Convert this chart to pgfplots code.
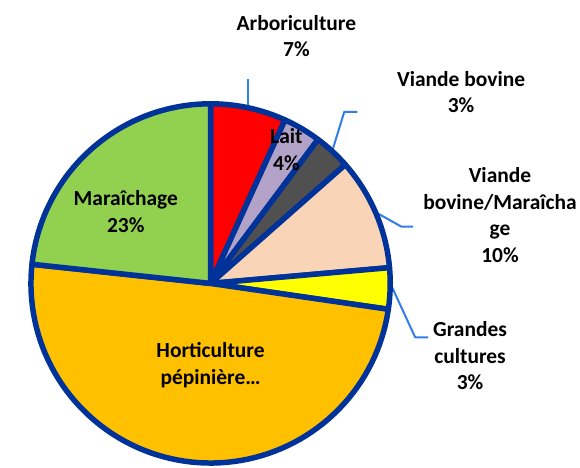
\documentclass[border=0pt]{standalone}
\usepackage{pgfplots}
\pgfplotsset{compat=1.18}
\usepackage{fontspec}
\setmainfont{Carlito}
\definecolor{bord}{RGB}{0,51,153}
\definecolor{lead}{RGB}{50,125,235}
\definecolor{cArbo}{RGB}{255,0,0}
\definecolor{cLait}{RGB}{179,162,199}
\definecolor{cVB}{RGB}{80,80,80}
\definecolor{cVBM}{RGB}{250,212,182}
\definecolor{cGC}{RGB}{255,255,0}
\definecolor{cHort}{RGB}{255,192,0}
\definecolor{cMar}{RGB}{146,208,80}
\tikzset{lbl/.style={font=\fontsize{21.5}{26.5}\selectfont\bfseries, align=center, text=black}}
% shares (percent), clockwise from 12 o'clock
\def\vArbo{6.8}\def\vLait{3.4}\def\vVB{3.3}\def\vVBM{10.1}\def\vGC{3.7}\def\vHort{49.4}\def\vMar{23.3}
\pgfmathsetmacro\aA{90}
\pgfmathsetmacro\aB{\aA-3.6*\vArbo}
\pgfmathsetmacro\aC{\aB-3.6*\vLait}
\pgfmathsetmacro\aD{\aC-3.6*\vVB}
\pgfmathsetmacro\aE{\aD-3.6*\vVBM}
\pgfmathsetmacro\aF{\aE-3.6*\vGC}
\pgfmathsetmacro\aG{\aF-3.6*\vHort}
\pgfmathsetmacro\aH{\aG-3.6*\vMar}
\begin{document}
\begin{tikzpicture}
\begin{axis}[x=1pt,y=1pt,xmin=0,xmax=580,ymin=0,ymax=468,
  hide axis, scale only axis, clip=false, anchor=south west,
  every axis plot/.append style={line width=5.5pt, draw=bord, line join=round, samples=80, variable=\t, no markers}]
\path (axis cs:0,0) rectangle (axis cs:580,468);
% leader lines
\addplot[draw=lead, line width=2pt] coordinates {(249,389) (249,363)};
\addplot[draw=lead, line width=2pt] coordinates {(358,356) (345,356) (333,317)};
\addplot[draw=lead, line width=2pt] coordinates {(414,241) (402,241) (377,255)};
\addplot[draw=lead, line width=2pt] coordinates {(429,130) (416,130) (393,180)};
% slices
\addplot[fill=cArbo, domain=\aB:\aA] ({211+180*cos(\t)},{184+180*sin(\t)}) -- (axis cs:211,184) -- cycle;
\addplot[fill=cLait, domain=\aC:\aB] ({211+180*cos(\t)},{184+180*sin(\t)}) -- (axis cs:211,184) -- cycle;
\addplot[fill=cVB, domain=\aD:\aC] ({211+180*cos(\t)},{184+180*sin(\t)}) -- (axis cs:211,184) -- cycle;
\addplot[fill=cVBM, domain=\aE:\aD] ({211+180*cos(\t)},{184+180*sin(\t)}) -- (axis cs:211,184) -- cycle;
\addplot[fill=cGC, domain=\aF:\aE] ({211+180*cos(\t)},{184+180*sin(\t)}) -- (axis cs:211,184) -- cycle;
\addplot[fill=cHort, domain=\aG:\aF] ({211+180*cos(\t)},{184+180*sin(\t)}) -- (axis cs:211,184) -- cycle;
\addplot[fill=cMar, domain=\aH:\aG] ({211+180*cos(\t)},{184+180*sin(\t)}) -- (axis cs:211,184) -- cycle;
% labels
\node[lbl] at (axis cs:297,432) {Arboriculture\\7\%};
\node[lbl] at (axis cs:462,375.5) {Viande bovine\\3\%};
\node[lbl] at (axis cs:287,318) {Lait\\4\%};
\node[lbl] at (axis cs:501,252.5) {Viande\\bovine/Maraîcha\\ge\\10\%};
\node[lbl] at (axis cs:126,256) {Maraîchage\\23\%};
\node[lbl] at (axis cs:211,102) {Horticulture\\pépinière…};
\node[lbl] at (axis cs:471,111.5) {Grandes\\cultures\\3\%};
\end{axis}
\end{tikzpicture}
\end{document}
